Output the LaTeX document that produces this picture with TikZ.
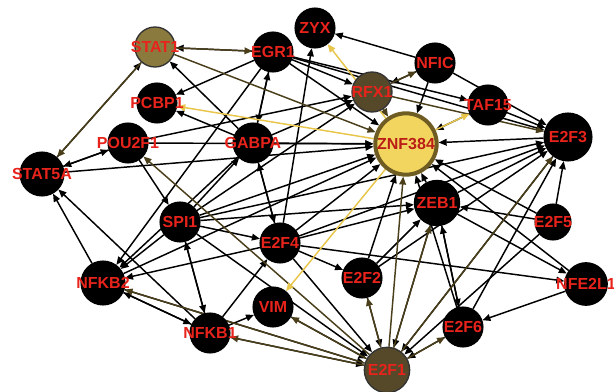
\documentclass[tikz,border=0pt]{standalone}
\usepackage{fontspec}
\setmainfont{Liberation Sans}
\usetikzlibrary{arrows.meta, backgrounds}
\definecolor{LightOlive}{HTML}{8A7A3E}
\definecolor{DarkOlive}{HTML}{55492A}
\definecolor{Hub}{HTML}{F2D55E}
\definecolor{HubRim}{HTML}{6E5C22}
\definecolor{OliveEdge}{HTML}{4A3F1A}
\definecolor{GoldEdge}{HTML}{E8C64C}
\definecolor{Label}{HTML}{E8231B}

\begin{document}
\begin{tikzpicture}[x=0.75pt, y=-0.75pt,
  gene/.style={circle, draw=black, fill=black, minimum size=30pt, inner sep=0pt, line width=0.8pt},
  olivegene/.style={gene, draw=black!80, fill=DarkOlive, line width=1pt},
  hub/.style={gene, draw=HubRim, fill=Hub, line width=3pt, minimum size=46pt},
  genelabel/.style={text=Label, font=\bfseries\fontsize{12}{12}\selectfont, inner sep=0pt},
  edge/.style={-{Triangle[length=6pt,width=5pt]}, line width=1.1pt, black},
  oedge/.style={edge, OliveEdge},
  yedge/.style={edge, GoldEdge}
]
\useasboundingbox (0,0) rectangle (614,392);

% genes
\node[gene, label={[genelabel]center:ZYX}] (ZYX) at (315,28) {};
\node[olivegene, fill=LightOlive, label={[genelabel]center:STAT1}] (STAT1) at (155,47) {};
\node[gene, label={[genelabel]center:EGR1}] (EGR1) at (273,52) {};
\node[gene, label={[genelabel]center:NFIC}] (NFIC) at (435,63) {};
\node[olivegene, label={[genelabel]center:RFX1}] (RFX1) at (372,92) {};
\node[gene, label={[genelabel]center:PCBP1}] (PCBP1) at (157,103) {};
\node[gene, label={[genelabel]center:TAF15}] (TAF15) at (488,105) {};
\node[hub, label={[genelabel, text=Label!80!black]center:ZNF384}] (ZNF384) at (406,144) {};
\node[gene, minimum size=36pt, label={[genelabel]center:E2F3}] (E2F3) at (568,137) {};
\node[gene, label={[genelabel]center:POU2F1}] (POU2F1) at (128,143) {};
\node[gene, label={[genelabel]center:GABPA}] (GABPA) at (253,143) {};
\node[gene, minimum size=33pt, label={[genelabel]center:STAT5A}] (STAT5A) at (42,174) {};
\node[gene, minimum size=34pt, label={[genelabel]center:ZEB1}] (ZEB1) at (437,203) {};
\node[gene, label={[genelabel]center:SPI1}] (SPI1) at (180,222) {};
\node[gene, minimum size=27pt, label={[genelabel]center:E2F5}] (E2F5) at (553,222) {};
\node[gene, label={[genelabel]center:E2F4}] (E2F4) at (280,243) {};
\node[gene, label={[genelabel]center:E2F2}] (E2F2) at (362,278) {};
\node[gene, minimum size=32pt, label={[genelabel]center:NFE2L1}] (NFE2L1) at (586,284) {};
\node[gene, minimum size=33pt, label={[genelabel]center:NFKB2}] (NFKB2) at (103,283) {};
\node[gene, label={[genelabel]center:VIM}] (VIM) at (273,307) {};
\node[gene, label={[genelabel]center:E2F6}] (E2F6) at (463,327) {};
\node[gene, label={[genelabel]center:NFKB1}] (NFKB1) at (210,333) {};
\node[olivegene, minimum size=34pt, label={[genelabel]center:E2F1}] (E2F1) at (387,370) {};

% interactions
\begin{scope}[on background layer]
\foreach \s/\t in {EGR1/STAT1, GABPA/STAT1, STAT5A/STAT1, EGR1/PCBP1, GABPA/PCBP1,
    EGR1/GABPA, GABPA/EGR1, NFIC/ZYX, E2F4/ZYX, EGR1/NFKB2,
    EGR1/RFX1, EGR1/ZNF384, EGR1/TAF15, EGR1/E2F3,
    NFIC/RFX1, NFIC/ZNF384, NFIC/E2F3, TAF15/E2F3, TAF15/ZNF384, E2F3/ZNF384,
    POU2F1/STAT5A, STAT5A/POU2F1, POU2F1/ZNF384, POU2F1/RFX1, POU2F1/SPI1,
    GABPA/ZNF384, GABPA/RFX1, GABPA/NFKB2, GABPA/E2F4, E2F4/GABPA,
    STAT5A/ZNF384, NFKB2/STAT5A, NFKB1/STAT5A,
    SPI1/GABPA, SPI1/E2F4, SPI1/NFKB2, SPI1/NFKB1, NFKB1/SPI1, SPI1/ZNF384,
    SPI1/ZEB1, SPI1/E2F3, SPI1/E2F1, SPI1/RFX1,
    E2F4/NFKB2, E2F4/E2F2, E2F4/E2F1, E2F4/ZNF384, E2F4/E2F3, E2F4/NFE2L1, E2F4/ZEB1,
    NFKB2/NFKB1, NFKB1/NFKB2, NFKB2/E2F1, NFKB2/ZNF384,
    NFKB1/VIM, NFKB1/E2F4, NFKB1/E2F1, VIM/E2F1,
    E2F2/E2F1, E2F2/ZEB1, E2F2/ZNF384, E2F2/E2F3,
    ZEB1/E2F1, ZEB1/E2F6, ZEB1/NFE2L1, ZEB1/ZNF384, ZEB1/E2F3,
    E2F5/ZEB1, E2F5/E2F3, E2F5/ZNF384, E2F5/E2F1,
    E2F6/ZEB1, E2F6/E2F3, E2F6/E2F1, E2F6/ZNF384,
    NFE2L1/E2F6, NFE2L1/ZNF384, E2F3/E2F1}
  \draw[edge] (\s) -- (\t);
\foreach \s/\t in {STAT1/EGR1, STAT1/ZNF384, STAT1/STAT5A, RFX1/NFIC, RFX1/E2F3, RFX1/ZNF384,
    E2F1/POU2F1, E2F1/NFKB2, E2F1/NFKB1, E2F1/VIM, E2F1/E2F2, E2F1/ZNF384,
    E2F1/ZEB1, E2F1/E2F6, E2F1/E2F3}
  \draw[oedge] (\s) -- (\t);
\foreach \t in {ZYX, PCBP1, TAF15, VIM}
  \draw[yedge] (ZNF384) -- (\t);
\end{scope}
\end{tikzpicture}
\end{document}
